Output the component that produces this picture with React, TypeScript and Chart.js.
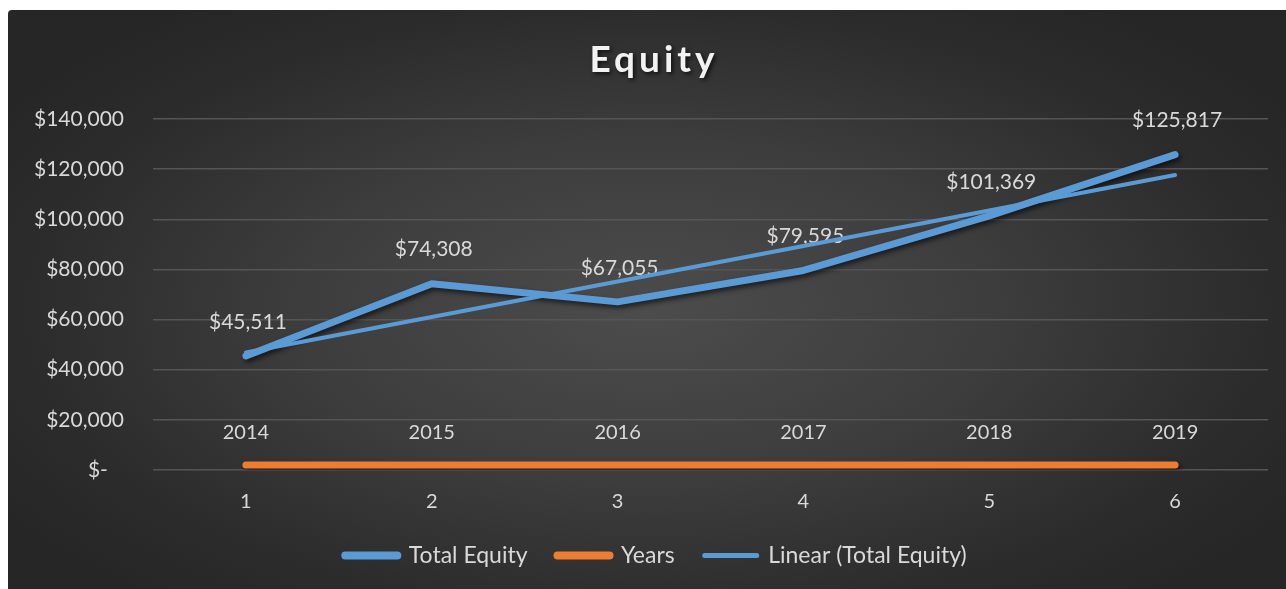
import { useEffect, useRef } from "react";
import { Chart, registerables } from "chart.js";

Chart.register(...registerables);

const chartTitle = "Equity";
const categories = ["1", "2", "3", "4", "5", "6"];
const totalEquity = [45511, 74308, 67055, 79595, 101369, 125817];
const years = [2014, 2015, 2016, 2017, 2018, 2019];
const seriesNames = ["Total Equity", "Years", "Linear (Total Equity)"];
const yMin = 0;
const yMax = 140000;
const yStep = 20000;

const BLUE = "#5B9BD5";
const ORANGE = "#ED7D31";
const TEXT = "#d9d9d9";
const FONT = "Lato, 'Open Sans', sans-serif";

// least-squares linear trendline of Total Equity (Excel "Linear" trendline)
function linearTrend(values: number[]): number[] {
  const n = values.length;
  const xs = values.map((_, i) => i + 1);
  const mx = xs.reduce((a, b) => a + b, 0) / n;
  const my = values.reduce((a, b) => a + b, 0) / n;
  let num = 0;
  let den = 0;
  for (let i = 0; i < n; i++) {
    num += (xs[i] - mx) * (values[i] - my);
    den += (xs[i] - mx) * (xs[i] - mx);
  }
  const slope = num / den;
  const icpt = my - slope * mx;
  return xs.map((x) => icpt + slope * x);
}

function money(v: number): string {
  if (v === 0) return "$-   ";
  return "$" + Math.round(v).toLocaleString("en-US");
}

const excelLook = {
  id: "excelLook",
  afterLayout(chart: any) {
    // Excel centres the legend on the plot rather than the whole canvas
    if (chart.legend) chart.legend.left += 36;
  },
  beforeDatasetDraw(chart: any, args: any) {
    const ctx = chart.ctx;
    ctx.save();
    if (args.index !== 2) {
      ctx.shadowColor = "rgba(0,0,0,0.6)";
      ctx.shadowBlur = 5;
      ctx.shadowOffsetX = 2;
      ctx.shadowOffsetY = 3;
    }
  },
  afterDatasetDraw(chart: any, args: any) {
    const ctx = chart.ctx;
    ctx.restore();
    if (args.index === 0) {
      ctx.save();
      ctx.fillStyle = TEXT;
      ctx.textAlign = "center";
      ctx.textBaseline = "middle";
      ctx.font = `21px ${FONT}`;
      const m0 = chart.getDatasetMeta(0);
      m0.data.forEach((pt: any, i: number) => {
        ctx.fillText(money(totalEquity[i]), pt.x + 2, pt.y - 34);
      });
      ctx.font = `20px ${FONT}`;
      const m1 = chart.getDatasetMeta(1);
      m1.data.forEach((pt: any, i: number) => {
        ctx.fillText(String(years[i]), pt.x, pt.y - 32);
      });
      ctx.restore();
    }
  },
  afterDraw(chart: any) {
    const ctx = chart.ctx;
    ctx.save();
    ctx.font = `bold 37px ${FONT}`;
    (ctx as any).letterSpacing = "4px";
    ctx.fillStyle = "#f2f2f2";
    ctx.textAlign = "center";
    ctx.textBaseline = "middle";
    ctx.shadowColor = "rgba(0,0,0,0.7)";
    ctx.shadowBlur = 4;
    ctx.shadowOffsetX = 2;
    ctx.shadowOffsetY = 2;
    ctx.fillText(chartTitle, chart.width / 2 + 7, 50);
    ctx.restore();
  },
};

export default function App() {
  const ref = useRef<HTMLCanvasElement | null>(null);

  useEffect(() => {
    if (!ref.current) return;
    const trend = linearTrend(totalEquity);
    const colors = [BLUE, ORANGE, BLUE];
    const widths = [8, 8, 5];
    const chart = new Chart(ref.current, {
      type: "line",
      data: {
        labels: categories,
        datasets: [
          {
            label: seriesNames[0],
            data: totalEquity,
            borderColor: BLUE,
            backgroundColor: BLUE,
            borderWidth: 7,
            borderCapStyle: "round",
            borderJoinStyle: "round",
            pointRadius: 0,
            tension: 0,
            order: 2,
          },
          {
            label: seriesNames[1],
            data: years,
            borderColor: ORANGE,
            backgroundColor: ORANGE,
            borderWidth: 7,
            borderCapStyle: "round",
            borderJoinStyle: "round",
            pointRadius: 0,
            order: 3,
          },
          {
            label: seriesNames[2],
            data: trend,
            borderColor: BLUE,
            backgroundColor: BLUE,
            borderWidth: 4,
            borderCapStyle: "round",
            pointRadius: 0,
            order: 1,
          },
        ],
      },
      options: {
        animation: false,
        responsive: false,
        layout: { padding: { top: 109, right: 18, bottom: 12, left: 0 } },
        plugins: {
          title: { display: false },
          tooltip: { enabled: false },
          legend: {
            position: "bottom",
            labels: {
              usePointStyle: true,
              pointStyleWidth: 52,
              padding: 30,
              color: TEXT,
              font: { family: FONT, size: 23 },
              generateLabels: (c: any) =>
                c.data.datasets.map((d: any, i: number) => ({
                  text: d.label,
                  fillStyle: colors[i],
                  strokeStyle: colors[i],
                  lineWidth: widths[i],
                  lineCap: "round",
                  pointStyle: "line",
                  fontColor: TEXT,
                  hidden: false,
                  datasetIndex: i,
                })),
            },
          },
        },
        scales: {
          x: {
            offset: true,
            grid: { display: false, drawTicks: false },
            border: { display: false },
            ticks: {
              color: TEXT,
              font: { family: FONT, size: 20 },
              padding: 20,
            },
            afterFit: (s: any) => {
              s.height = 44;
            },
          },
          y: {
            min: yMin,
            max: yMax,
            grid: { color: "#555555", lineWidth: 1.5, drawTicks: false },
            border: { display: false },
            ticks: {
              stepSize: yStep,
              color: TEXT,
              font: { family: FONT, size: 21 },
              padding: 29,
              callback: (v: any) => money(Number(v)),
            },
            afterFit: (s: any) => {
              s.width = 145;
            },
          },
        },
      },
      plugins: [excelLook],
    });
    return () => chart.destroy();
  }, []);

  return (
    <div
      style={{
        position: "fixed",
        left: 8,
        top: 10,
        width: 1278,
        height: 579,
        borderTopLeftRadius: 4,
        overflow: "hidden",
        background:
          "radial-gradient(ellipse 60% 65% at 50% 52%, #4c4c4c 0%, #3d3d3d 45%, #2c2c2c 80%, #262626 100%)",
      }}
    >
      <canvas ref={ref} width={1278} height={579} style={{ display: "block" }} />
    </div>
  );
}
